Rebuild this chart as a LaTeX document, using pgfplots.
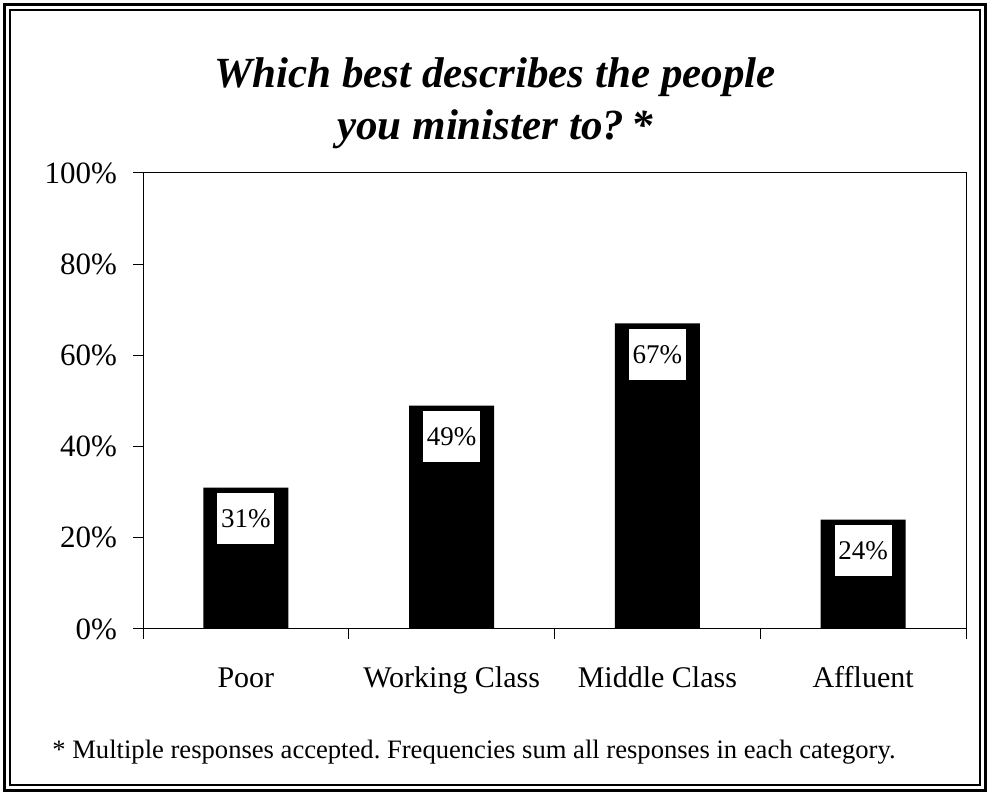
\documentclass[border=0pt]{standalone}
\usepackage{pgfplots}
\pgfplotsset{compat=1.18}
\usepackage{fontspec}
\setmainfont{Liberation Serif}
\frenchspacing

% one reference pixel = 0.5pt
\begin{document}
\begin{tikzpicture}
\useasboundingbox (0,0) rectangle (495pt,397.5pt);
% double frame
\draw[line width=1.2pt] (2.2pt,2.2pt) rectangle (492.8pt,395.3pt);
\draw[line width=0.6pt] (5pt,5pt) rectangle (490pt,392.5pt);

\begin{axis}[
at={(71.5pt,83pt)}, anchor=south west,
scale only axis,
width=411.5pt, height=228pt,
xmin=0.5, xmax=4.5,
ymin=0, ymax=100,
axis line style={line width=0.5pt},
tick align=outside,
tick pos=left,
tick style={black, line width=0.5pt},
major tick length=5pt,
ytick={0,20,40,60,80,100},
yticklabel={\pgfmathprintnumber{\tick}\%},
yticklabel style={font=\fontsize{15.5}{18}\selectfont, xshift=-4.5pt},
xtick={0.5,1.5,2.5,3.5,4.5},
xticklabels={},
extra x ticks={1,2,3,4},
extra x tick labels={Poor,Working Class,Middle Class,Affluent},
extra x tick style={major tick length=0pt,
  xticklabel style={font=\fontsize{15}{18}\selectfont, anchor=base, yshift=-29.5pt}},
/pgf/number format/assume math mode=true,
ybar,
bar width=42.5pt,
nodes near coords={\pgfmathprintnumber{\pgfplotspointmeta}\%},
nodes near coords style={anchor=north, yshift=-2.5pt, fill=white,
  minimum width=28.5pt, minimum height=25.5pt, inner sep=0pt,
  font=\fontsize{13.5}{16}\selectfont},
]
\addplot[fill=black, draw=none, bar shift=0pt] coordinates {
(1,31) (2,49) (3,67) (4,24)
};
\end{axis}

\node[anchor=base, font=\fontsize{21.5}{25}\selectfont\bfseries\itshape] at (247.5pt,353.5pt) {Which best describes the people};
\node[anchor=base, font=\fontsize{21.5}{25}\selectfont\bfseries\itshape] at (247.5pt,327.5pt) {you minister to?\,*};
\node[anchor=base west, inner sep=0pt, font=\fontsize{13.3}{16}\selectfont] at (26pt,18pt) {* Multiple responses accepted. Frequencies sum all responses in each category.};
\end{tikzpicture}
\end{document}
